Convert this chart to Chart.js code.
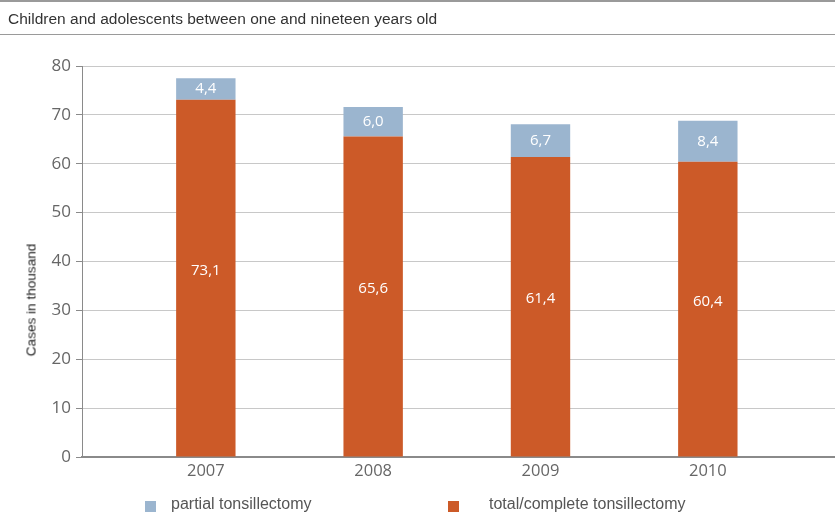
<!DOCTYPE html>
<html>
<head>
<meta charset="utf-8">
<script src="https://cdn.jsdelivr.net/npm/chart.js@4/dist/chart.umd.min.js"></script>
<style>
  html, body { margin: 0; padding: 0; background: #fff; }
  #wrap { position: relative; width: 835px; height: 519px; overflow: hidden; }
  #title { position: absolute; left: 0; top: 0; width: 835px; height: 35px; box-sizing: border-box;
           border-top: 2px solid #9a9a9a; border-bottom: 1px solid #9a9a9a;
           font: 15.5px "Liberation Sans", Arial, sans-serif; color: #333; padding: 8px 0 0 8px; }
  canvas { position: absolute; left: 0; top: 0; }
  .leg { position: absolute; top: 495px; font: 16px "Liberation Sans", Arial, sans-serif; color: #555; }
  .sw { position: absolute; top: 501px; width: 11px; height: 11px; }
  #ytitle { position: absolute; left: 31px; top: 300px; transform: translate(-50%, -50%) rotate(-90deg);
            white-space: nowrap; font: 13.6px "Liberation Sans", Arial, sans-serif; color: #222; }
</style>
</head>
<body>
<div id="wrap">
  <canvas id="c" width="835" height="519"></canvas>
  <div id="title">Children and adolescents between one and nineteen years old</div>
  <div id="ytitle">Cases in thousand</div>
  <div class="sw" style="left:145px;background:#9bb5cf"></div>
  <div class="leg" style="left:171px" id="l0"></div>
  <div class="sw" style="left:448px;background:#cc5a28"></div>
  <div class="leg" style="left:489px" id="l1"></div>
</div>
<script>
const categories = ["2007", "2008", "2009", "2010"];
const totalValues = [73.1, 65.6, 61.4, 60.4];
const partialValues = [4.4, 6.0, 6.7, 8.4];
const seriesNames = ["partial tonsillectomy", "total/complete tonsillectomy"];
const yTicks = [0, 10, 20, 30, 40, 50, 60, 70, 80];

document.getElementById('l0').textContent = seriesNames[0];
document.getElementById('l1').textContent = seriesNames[1];

const fmt = v => v.toFixed(1).replace('.', ',');

const labelPlugin = {
  id: 'barLabels',
  afterDatasetsDraw(chart) {
    const ctx = chart.ctx;
    const ys = chart.scales.y, xs = chart.scales.x;
    ctx.save();
    ctx.fillStyle = '#ffffff';
    ctx.font = '15px "Open Sans", "Noto Sans", sans-serif';
    ctx.textAlign = 'center';
    ctx.textBaseline = 'middle';
    categories.forEach((c, i) => {
      const x = xs.getPixelForValue(i);
      const t = totalValues[i], p = partialValues[i];
      ctx.fillText(fmt(t), x, ys.getPixelForValue(t / 2) - 8);
      ctx.fillText(fmt(p), x, ys.getPixelForValue(t + p / 2));
    });
    ctx.restore();
  }
};

new Chart(document.getElementById('c'), {
  type: 'bar',
  data: {
    datasets: [
      { label: seriesNames[1], data: totalValues.map((v, i) => ({ x: i, y: v })), backgroundColor: '#cc5a28', stack: 's' },
      { label: seriesNames[0], data: partialValues.map((v, i) => ({ x: i, y: v })), backgroundColor: '#9bb5cf', stack: 's' }
    ]
  },
  options: {
    responsive: false,
    animation: false,
    layout: { padding: { top: 66, right: 0, bottom: 34, left: 0 } },
    datasets: { bar: { barPercentage: 0.355, categoryPercentage: 1 } },
    plugins: { legend: { display: false }, tooltip: { enabled: false } },
    scales: {
      x: {
        type: 'linear', stacked: true, min: -0.74, max: 3.76, offset: false,
        afterBuildTicks: s => { s.ticks = categories.map((c, i) => ({ value: i })); },
        afterFit: s => { s.height = 28; },
        ticks: { callback: (v) => categories[v], color: '#666', font: { family: '"Open Sans", "Noto Sans", sans-serif', size: 16.5 }, padding: 4 },
        grid: { display: false, drawTicks: false },
        border: { color: '#8a8a8a', width: 2 }
      },
      y: {
        stacked: true, min: 0, max: 80,
        afterBuildTicks: s => { s.ticks = yTicks.map(v => ({ value: v })); },
        afterFit: s => { s.width = 82; },
        ticks: { color: '#666', font: { family: '"Open Sans", "Noto Sans", sans-serif', size: 17 }, padding: 5 },
        grid: { color: '#c8c8c8', lineWidth: 1, tickLength: 6, tickColor: '#8a8a8a' },
        border: { color: '#8a8a8a', width: 1 }
      }
    }
  },
  plugins: [labelPlugin]
});
</script>
</body>
</html>
